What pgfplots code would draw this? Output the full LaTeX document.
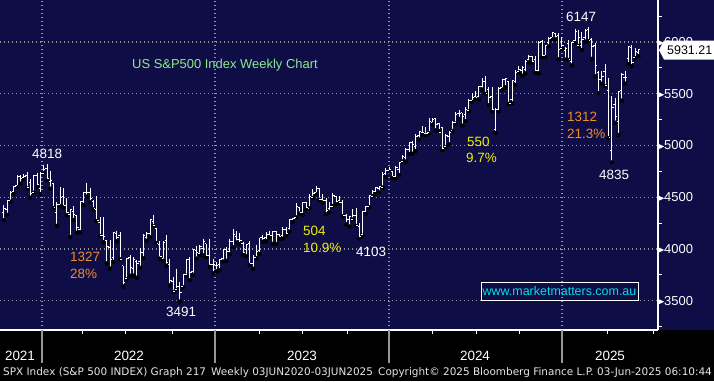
\documentclass[border=0pt]{standalone}
\usepackage{pgfplots}
\pgfplotsset{compat=1.18}
\usepackage{pgfplotstable}
\usepackage{fontspec}
\setmainfont{Liberation Sans}
\newfontfamily\dejavu{DejaVu Sans}
\definecolor{bbnavy}{RGB}{15,13,70}
\definecolor{gridgray}{RGB}{150,150,150}
\definecolor{ttlgreen}{RGB}{140,235,140}
\definecolor{annorange}{RGB}{245,140,35}
\definecolor{annyellow}{RGB}{240,240,0}
\definecolor{wmcyan}{RGB}{0,225,235}
\definecolor{foot}{RGB}{230,230,235}

\pgfdeclareplotmark{opentick}{\pgfpathmoveto{\pgfqpoint{-1.8bp}{0pt}}\pgfpathlineto{\pgfqpoint{0pt}{0pt}}\pgfusepathqstroke}
\pgfdeclareplotmark{closetick}{\pgfpathmoveto{\pgfqpoint{0pt}{0pt}}\pgfpathlineto{\pgfqpoint{1.8bp}{0pt}}\pgfusepathqstroke}

\pgfplotstableread{
i O H L C
-13 4348 4429 4278 4391
-12 4385 4475 4330 4471
-11 4471 4560 4456 4545
-10 4553 4608 4537 4605
-9 4610 4718 4595 4697
-8 4697 4718 4630 4682
-7 4689 4720 4672 4698
-6 4712 4743 4585 4595
-5 4640 4672 4495 4538
-4 4545 4713 4543 4712
-3 4710 4731 4600 4621
-2 4588 4741 4531 4725
-1 4733 4808 4733 4766
0 4778 4818 4662 4677
1 4655 4749 4582 4663
2 4632 4632 4395 4398
3 4356 4453 4223 4432
4 4431 4595 4414 4501
5 4505 4590 4401 4419
6 4417 4490 4327 4349
7 4332 4385 4115 4385
8 4363 4416 4279 4329
9 4322 4325 4157 4204
10 4188 4465 4162 4463
11 4462 4546 4424 4543
12 4541 4637 4506 4546
13 4547 4593 4450 4488
14 4462 4471 4381 4392
15 4385 4513 4268 4272
16 4255 4308 4125 4132
17 4130 4307 4063 4123
18 4081 4090 3859 4024
19 4013 4090 3810 3901
20 3920 4159 3875 4158
21 4151 4177 4073 4109
22 4134 4168 3900 3901
23 3838 3838 3637 3675
24 3715 3913 3705 3912
25 3920 3945 3741 3825
26 3815 3918 3742 3899
27 3880 3890 3722 3863
28 3883 4013 3818 3962
29 3966 4140 3911 4130
30 4113 4167 4079 4145
31 4145 4280 4112 4280
32 4266 4325 4218 4228
33 4195 4203 4057 4057
34 4041 4073 3907 3924
35 3910 4077 3886 4067
36 4084 4139 3838 3873
37 3849 3907 3647 3693
38 3682 3733 3584 3586
39 3610 3806 3600 3640
40 3636 3685 3491 3583
41 3638 3762 3630 3752
42 3755 3905 3740 3901
43 3901 3920 3698 3771
44 3780 3998 3750 3993
45 3982 4028 3906 3965
46 3956 4034 3944 4026
47 4005 4100 3939 4072
48 4052 4052 3918 3934
49 3939 4101 3827 3852
50 3853 3906 3764 3845
51 3843 3878 3783 3840
52 3853 3906 3794 3895
53 3911 4003 3877 3999
54 3999 4015 3885 3973
55 3978 4094 3949 4071
56 4071 4195 4015 4136
57 4120 4176 4061 4090
58 4090 4156 4047 4079
59 4053 4063 3943 3970
60 3993 4048 3928 4045
61 4055 4079 3846 3861
62 3855 3937 3809 3917
63 3917 4039 3909 3971
64 3982 4110 3951 4109
65 4108 4133 4069 4105
66 4110 4164 4073 4137
67 4138 4170 4113 4133
68 4134 4170 4049 4169
69 4166 4170 4048 4136
70 4136 4143 4098 4124
71 4126 4212 4099 4192
72 4190 4212 4132 4151
73 4200 4290 4166 4282
74 4282 4299 4261 4299
75 4308 4448 4305 4410
76 4396 4409 4341 4348
77 4355 4458 4329 4450
78 4450 4457 4385 4399
79 4394 4527 4393 4505
80 4502 4578 4492 4536
81 4543 4607 4528 4582
82 4580 4585 4474 4478
83 4479 4527 4448 4464
84 4465 4490 4335 4370
85 4389 4458 4356 4406
86 4415 4541 4415 4516
87 4510 4514 4431 4457
88 4464 4511 4441 4450
89 4453 4474 4316 4320
90 4320 4338 4238 4288
91 4284 4311 4216 4309
92 4289 4385 4284 4327
93 4321 4393 4223 4224
94 4217 4255 4103 4117
95 4139 4366 4128 4358
96 4364 4415 4340 4415
97 4406 4521 4402 4514
98 4511 4568 4511 4559
99 4554 4595 4537 4595
100 4589 4609 4546 4604
101 4593 4739 4593 4719
102 4725 4778 4695 4755
103 4759 4793 4751 4770
104 4745 4755 4682 4697
105 4703 4802 4682 4784
106 4772 4842 4714 4840
107 4849 4904 4845 4891
108 4888 4975 4845 4959
109 4957 5030 4918 5027
110 5026 5048 4920 5006
111 4989 5111 4946 5089
112 5093 5140 5057 5137
113 5130 5190 5104 5124
114 5112 5179 5102 5117
115 5123 5261 5117 5234
116 5219 5265 5203 5254
117 5258 5264 5146 5204
118 5211 5222 5139 5123
119 5171 5176 4953 4967
120 4988 5114 4984 5100
121 5084 5140 5011 5128
122 5142 5239 5140 5223
123 5221 5325 5211 5303
124 5305 5342 5257 5305
125 5315 5316 5191 5278
126 5297 5375 5234 5347
127 5341 5447 5331 5431
128 5432 5505 5420 5465
129 5473 5524 5447 5460
130 5471 5570 5446 5567
131 5572 5655 5539 5615
132 5614 5670 5497 5505
133 5545 5567 5390 5459
134 5475 5566 5327 5346
135 5151 5358 5120 5344
136 5344 5563 5331 5554
137 5557 5643 5540 5634
138 5636 5651 5561 5648
139 5623 5624 5402 5408
140 5442 5636 5407 5626
141 5616 5733 5585 5703
142 5711 5767 5704 5738
143 5726 5765 5674 5751
144 5737 5822 5696 5815
145 5833 5878 5804 5864
146 5857 5863 5796 5808
147 5833 5866 5703 5729
148 5724 6012 5696 5996
149 6008 6017 5853 5870
150 5870 5973 5853 5969
151 5992 6044 5956 6032
152 6041 6099 6027 6090
153 6083 6086 6024 6051
154 6063 6085 5832 5931
155 5940 6049 5933 5971
156 5920 5950 5829 5942
157 5982 6022 5826 5827
158 5816 6002 5774 5997
159 6014 6128 5990 6101
160 5969 6120 5962 6041
161 5969 6101 5923 6026
162 6046 6127 6003 6115
163 6121 6147 6008 6013
164 6026 6043 5837 5955
165 5968 5987 5667 5770
166 5705 5715 5505 5639
167 5641 5715 5597 5668
168 5718 5787 5572 5581
169 5527 5655 5069 5074
170 4953 5481 4835 5363
171 5398 5459 5220 5283
172 5233 5528 5101 5525
173 5529 5700 5433 5686
174 5656 5720 5598 5660
175 5842 5959 5786 5958
176 5944 5968 5767 5803
177 5855 5944 5843 5912
178 5897 5937 5862 5931
}\spx

\begin{document}
\begin{tikzpicture}[x=1bp,y=1bp]
\useasboundingbox (0,-51) rectangle (714,330);
\fill[black] (0,-51) rectangle (714,0);
\fill[bbnavy] (0,0) rectangle (714,330);
\begin{axis}[
  at={(0,0)}, anchor=south west, scale only axis,
  width=658bp, height=330bp,
  xmin=-14.15, xmax=183.9, ymin=3216.8, ymax=6405.9,
  axis x line*=bottom, axis y line*=right,
  axis line style={white, line width=1.2bp, -},
  xtick={-1.5,50.57,102.95,155.0}, xticklabels={},
  minor xtick={10.54,23.48,37.63,63.82,76.76,90.31,115.9,129.4,142.1,168.6,182.6},
  ytick={3500,4000,...,6000}, minor ytick={3250,3750,...,6250},
  tick align=outside, major tick length=0pt, minor tick length=3.5bp,
  minor tick style={white, line width=1bp},
  major tick style={draw=none},
  xmajorgrids, ymajorgrids,
  major grid style={gridgray, line width=1.4bp, dash pattern=on 1.4bp off 2.6bp},
  /pgf/number format/assume math mode=true,
  yticklabel style={anchor=west, inner sep=0pt, xshift=0bp, font=\fontsize{13}{13}\selectfont, text=white},
  yticklabel={\tikz[baseline=-0.5ex]\fill[white] (0,-2.8bp)--(0,2.8bp)--(6bp,0)--cycle;\pgfmathprintnumber[fixed,precision=0,1000 sep={}]{\tick}},
]
\addplot[only marks, mark=none, error bars/.cd, y dir=plus, y explicit, error mark=none,
  error bar style={white, line width=1bp, solid}]
  table[x=i, y=L, y error expr=\thisrow{H}-\thisrow{L}] {\spx};
\addplot[only marks, mark=opentick, mark options={draw=white, line width=1bp, solid}]
  table[x=i, y=O] {\spx};
\addplot[only marks, mark=closetick, mark options={draw=white, line width=1bp, solid}]
  table[x=i, y=C] {\spx};
\end{axis}
% year boundary ticks below the axis
\foreach \xx in {42,215,389,562} {\draw[gridgray, line width=1.2bp] (\xx,0) -- (\xx,-33);}
% year labels
\begin{scope}[every node/.style={text=white, inner sep=0pt, font=\fontsize{13.5}{13.5}\selectfont}]
\node at (20,-26) {2021};
\node at (129,-26) {2022};
\node at (302,-26) {2023};
\node at (475,-26) {2024};
\node at (610,-26) {2025};
\end{scope}
% footer
\begin{scope}[every node/.style={text=foot, inner sep=0pt, anchor=west, font=\dejavu\fontsize{10.5}{10.5}\selectfont}]
\node at (3,-43) {SPX Index (S\&P 500 INDEX) Graph 217};
\node at (211,-43) {Weekly 03JUN2020-03JUN2025};
\node at (378,-43) {Copyright© 2025 Bloomberg Finance L.P.};
\node at (597,-43) {03-Jun-2025 06:10:44};
\end{scope}
% annotations
\begin{scope}[every node/.style={inner sep=0pt, anchor=west, font=\fontsize{13.5}{13.5}\selectfont}]
\node[text=ttlgreen, font=\fontsize{13}{13}\selectfont] at (132,265) {US S\&P500 Index Weekly Chart};
\node[text=white] at (32,176.5) {4818};
\node[text=annorange] at (70,73) {1327};
\node[text=annorange] at (70,56) {28\%};
\node[text=white] at (166,18) {3491};
\node[text=annyellow] at (303,99) {504};
\node[text=annyellow] at (303,82) {10.9\%};
\node[text=white] at (356,78) {4103};
\node[text=annyellow] at (467,188) {550};
\node[text=annyellow] at (466,172) {9.7\%};
\node[text=annorange] at (567,213) {1312};
\node[text=annorange] at (567,196) {21.3\%};
\node[text=white] at (566,313) {6147};
\node[text=white] at (599,155) {4835};
\end{scope}
% last price box
\fill[white] (659,280) -- (664,289.5) -- (714,289.5) -- (714,270.5) -- (664,270.5) -- cycle;
\node[anchor=west, inner sep=0pt, text=black, font=\fontsize{12.5}{12.5}\selectfont] at (667,280) {5931.21};
% watermark
\draw[white, line width=1bp] (481,30) rectangle (638,48);
\node[inner sep=0pt, text=wmcyan, font=\fontsize{12.5}{12.5}\selectfont] at (559.5,39) {www.marketmatters.com.au};
\end{tikzpicture}
\end{document}
